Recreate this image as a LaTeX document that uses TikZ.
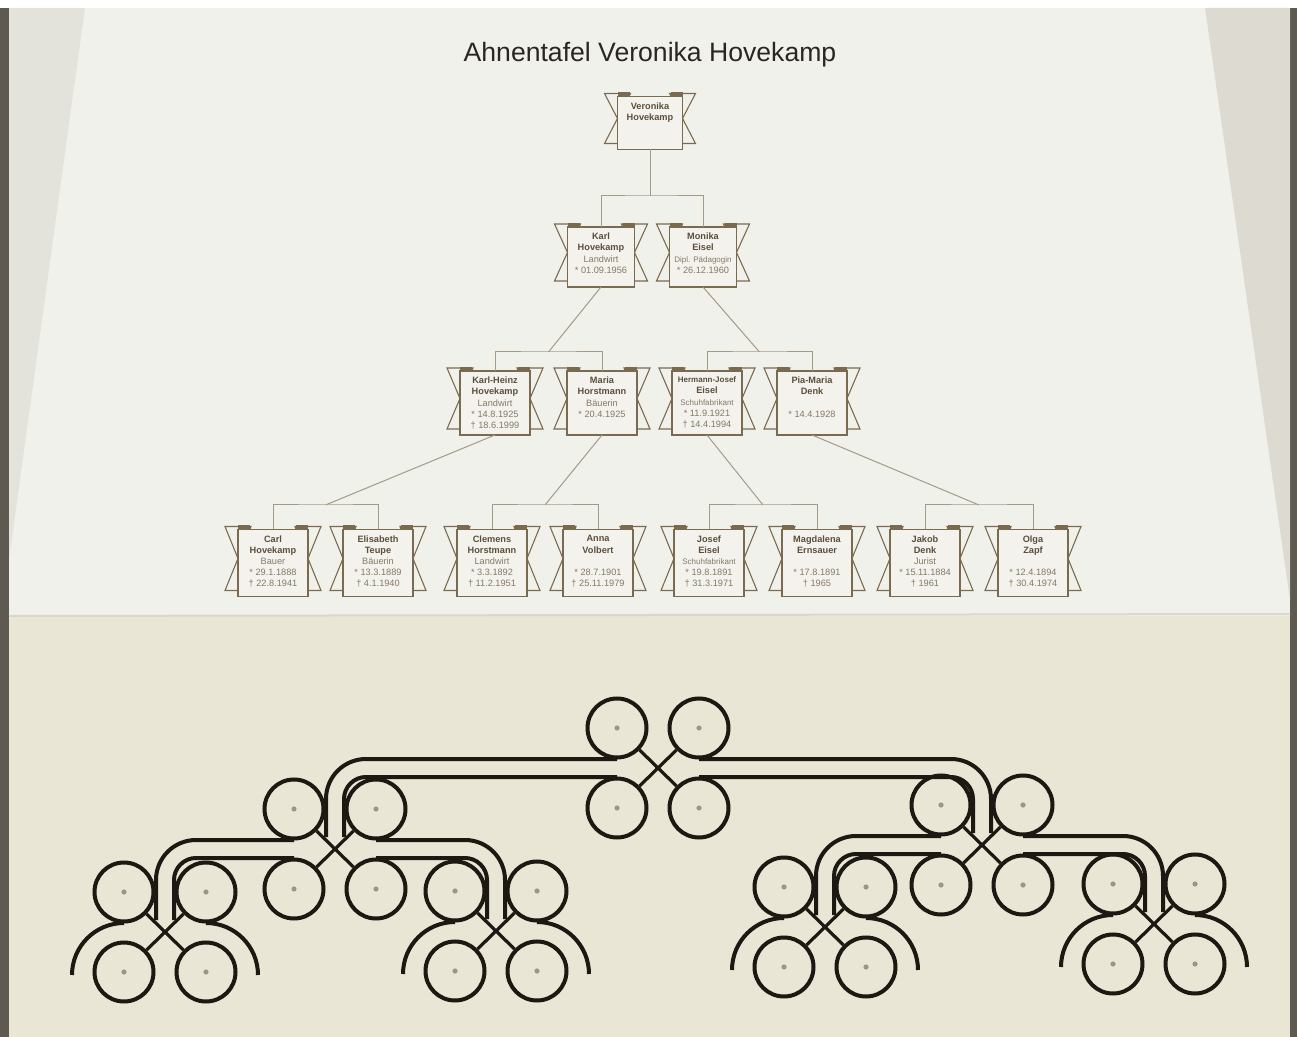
\documentclass[tikz,border=0pt]{standalone}
\usepackage{fontspec}
\setmainfont{Liberation Sans}
\usetikzlibrary{calc}

\definecolor{edgecol}{HTML}{5E5A52}
\definecolor{topsheet}{HTML}{F1F1EC}
\definecolor{bottomsheet}{HTML}{E9E6D5}
\definecolor{shadecol}{HTML}{D9D6CB}
\definecolor{boxcol}{HTML}{7A6B50}
\definecolor{boxfill}{HTML}{F3F2ED}
\definecolor{namecol}{HTML}{5A4F3C}
\definecolor{infocol}{HTML}{857A66}
\definecolor{conncol}{HTML}{A39A88}
\definecolor{ringcol}{HTML}{1C1812}
\definecolor{dotcol}{HTML}{9C9684}
\definecolor{titlecol}{HTML}{2B2620}

\newcommand{\nm}[1]{{\color{namecol}\bfseries #1}}
\newcommand{\wide}[1]{\makebox[\linewidth][c]{\fontsize{4.0}{5.6}\selectfont #1}}
\newcommand{\born}{{*}~}
\newcommand{\died}{\textdagger~}

% name, x, y, width(px), height(px), content
\newcommand{\personbox}[6]{%
  \begin{scope}[shift={(#2,#3)}]
    \draw[boxline] ({-#4/2-13},{-#5/2-3}) -- ({-#4/2+13},{#5/2-6}) -- ({-#4/2-13},{#5/2-6}) -- ({-#4/2+13},{-#5/2-3}) -- cycle;
    \draw[boxline] ({#4/2+13},{-#5/2-3}) -- ({#4/2-13},{#5/2-6}) -- ({#4/2+13},{#5/2-6}) -- ({#4/2-13},{-#5/2-3}) -- cycle;
    \fill[boxcol] ({-#4/2},{-#5/2-4}) rectangle ({-#4/2+12},{-#5/2});
    \fill[boxcol] ({#4/2-12},{-#5/2-4}) rectangle ({#4/2},{-#5/2});
    \node[pbox] (#1) at (0,0) {\parbox[c][\dimexpr #5pt/2\relax][t]{\dimexpr #4pt/2\relax}{\centering\vspace*{3pt}#6}};
  \end{scope}}

% id, cx, cy
\newcommand{\ringunit}[3]{%
  \node[ring] (#1a) at ({#2-41},{#3-40}) {};
  \node[ring] (#1b) at ({#2+41},{#3-40}) {};
  \node[ring] (#1c) at ({#2-41},{#3+40}) {};
  \node[ring] (#1d) at ({#2+41},{#3+40}) {};
  \foreach \k in {a,b,c,d} {\fill[dotcol] (#1\k) circle[radius=1.3pt];}
  \draw[xline] (#1a) -- (#1d);
  \draw[xline] (#1b) -- (#1c);
}

% Px, Py, Qx, Qy, direction (-1 left, 1 right)
\newcommand{\ringtrack}[5]{%
  \draw[track] ({#1+41*(#5)},{#2-9}) -- ({#3-31*(#5)},{#2-9}) .. controls ({#3-8.9*(#5)},{#2-9}) and ({#3+9*(#5)},{#2+8.9}) .. ({#3+9*(#5)},{#2+31}) -- ({#3+9*(#5)},{#4-12});
  \draw[track] ({#1+41*(#5)},{#2+9}) -- ({#3-31*(#5)},{#2+9}) .. controls ({#3-18.9*(#5)},{#2+9}) and ({#3-9*(#5)},{#2+18.9}) .. ({#3-9*(#5)},{#2+31}) -- ({#3-9*(#5)},{#4-12});
}

% cx, cy
\newcommand{\ringleaf}[2]{%
  \draw[track] ({#1-41},{#2-9}) .. controls ({#1-69.7},{#2-9}) and ({#1-93},{#2+14.3}) .. ({#1-93},{#2+43});
  \draw[track] ({#1+41},{#2-9}) .. controls ({#1+69.7},{#2-9}) and ({#1+93},{#2+14.3}) .. ({#1+93},{#2+43});
}

\tikzset{
  boxline/.style={draw=boxcol, line width=0.55pt},
  pbox/.style={draw=boxcol, fill=boxfill, line width=0.6pt, inner sep=0pt, outer sep=0pt,
    font=\fontsize{4.6}{5.6}\selectfont, text=infocol},
  conn/.style={draw=conncol, line width=0.5pt},
  ring/.style={circle, draw=ringcol, line width=2pt, minimum size=29.5pt, inner sep=0pt},
  track/.style={draw=ringcol, line width=2pt},
  xline/.style={draw=ringcol, line width=1.6pt},
  titlestyle/.style={font=\fontsize{13.3}{16}\selectfont, text=titlecol}
}

\begin{document}
\begin{tikzpicture}[x=0.5pt,y=-0.5pt]
\useasboundingbox (0,0) rectangle (1297,1037);

% ---------- background (photographed paper) ----------
\fill[edgecol] (0,0) rectangle (1297,1037);
\fill[white] (0,0) rectangle (1297,8);
\fill[topsheet] (9,8) rectangle (1290,616);
\fill[shadecol, opacity=0.5] (9,8) -- (85,8) -- (9,560) -- cycle;
\fill[shadecol, opacity=0.8] (1205,8) -- (1290,8) -- (1290,600) -- cycle;
\fill[bottomsheet] (9,616) rectangle (1290,1037);
\draw[shadecol, line width=1pt] (9,616) -- (1290,614);

% ---------- title ----------
\node[titlestyle] (title) at (650,55) {Ahnentafel Veronika Hovekamp};

% ---------- junction points ----------
\coordinate (j0) at (650,196);
\coordinate (j1) at (548.5,352);
\coordinate (j2) at (759.5,352);
\coordinate (j3) at (325.5,505);
\coordinate (j4) at (545,505);
\coordinate (j5) at (763,505);
\coordinate (j6) at (979,505);

% ---------- generation 1 ----------
\personbox{V}{650}{123}{65}{53}{\nm{Veronika}\\\nm{Hovekamp}}

% ---------- generation 2 ----------
\personbox{K}{601}{257}{67}{60}{\nm{Karl}\\\nm{Hovekamp}\\Landwirt\\\born 01.09.1956}
\personbox{M}{703}{257}{67}{60}{\nm{Monika}\\\nm{Eisel}\\\wide{Dipl. P\"adagogin}\\\born 26.12.1960}

% ---------- generation 3 ----------
\personbox{KH}{495}{403}{70}{64}{\nm{Karl-Heinz}\\\nm{Hovekamp}\\Landwirt\\\born 14.8.1925\\\died 18.6.1999}
\personbox{MA}{602}{403}{70}{64}{\nm{Maria}\\\nm{Horstmann}\\B\"auerin\\\born 20.4.1925}
\personbox{HJ}{707}{403}{70}{64}{\wide{\nm{Hermann-Josef}}\\\nm{Eisel}\\\wide{Schuhfabrikant}\\\born 11.9.1921\\\died 14.4.1994}
\personbox{PM}{812}{403}{70}{64}{\nm{Pia-Maria}\\\nm{Denk}\\\mbox{}\\\born 14.4.1928}

% ---------- generation 4 ----------
\personbox{G1}{273}{563}{70}{67}{\nm{Carl}\\\nm{Hovekamp}\\Bauer\\\born 29.1.1888\\\died 22.8.1941}
\personbox{G2}{378}{563}{70}{67}{\nm{Elisabeth}\\\nm{Teupe}\\B\"auerin\\\born 13.3.1889\\\died 4.1.1940}
\personbox{G3}{492}{563}{70}{67}{\nm{Clemens}\\\nm{Horstmann}\\Landwirt\\\born 3.3.1892\\\died 11.2.1951}
\personbox{G4}{598}{563}{70}{67}{\nm{Anna}\\\nm{Volbert}\\\mbox{}\\\born 28.7.1901\\\died 25.11.1979}
\personbox{G5}{709}{563}{70}{67}{\nm{Josef}\\\nm{Eisel}\\\wide{Schuhfabrikant}\\\born 19.8.1891\\\died 31.3.1971}
\personbox{G6}{817}{563}{70}{67}{\nm{Magdalena}\\\nm{Ernsauer}\\\mbox{}\\\born 17.8.1891\\\died 1965}
\personbox{G7}{925}{563}{70}{67}{\nm{Jakob}\\\nm{Denk}\\Jurist\\\born 15.11.1884\\\died 1961}
\personbox{G8}{1033}{563}{70}{67}{\nm{Olga}\\\nm{Zapf}\\\mbox{}\\\born 12.4.1894\\\died 30.4.1974}

% ---------- connector lines ----------
\draw[conn] (V.south) -- (j0);
\draw[conn] (K.north) |- (j0) -| (M.north);
\draw[conn] (K.south) -- (j1);
\draw[conn] (KH.north) |- (j1) -| (MA.north);
\draw[conn] (M.south) -- (j2);
\draw[conn] (HJ.north) |- (j2) -| (PM.north);
\draw[conn] (KH.south) -- (j3);
\draw[conn] (G1.north) |- (j3) -| (G2.north);
\draw[conn] (MA.south) -- (j4);
\draw[conn] (G3.north) |- (j4) -| (G4.north);
\draw[conn] (HJ.south) -- (j5);
\draw[conn] (G5.north) |- (j5) -| (G6.north);
\draw[conn] (PM.south) -- (j6);
\draw[conn] (G7.north) |- (j6) -| (G8.north);

% ---------- circle fan chart ----------
\ringtrack{658}{768}{335}{849}{-1}
\ringtrack{658}{768}{982}{845}{1}
\ringtrack{335}{849}{165}{932}{-1}
\ringtrack{335}{849}{496}{931}{1}
\ringtrack{982}{845}{825}{927}{-1}
\ringtrack{982}{845}{1154}{924}{1}
\ringleaf{165}{932}
\ringleaf{496}{931}
\ringleaf{825}{927}
\ringleaf{1154}{924}

\ringunit{T}{658}{768}
\ringunit{L}{335}{849}
\ringunit{LL}{165}{932}
\ringunit{LR}{496}{931}
\ringunit{R}{982}{845}
\ringunit{RL}{825}{927}
\ringunit{RR}{1154}{924}

\end{tikzpicture}
\end{document}
